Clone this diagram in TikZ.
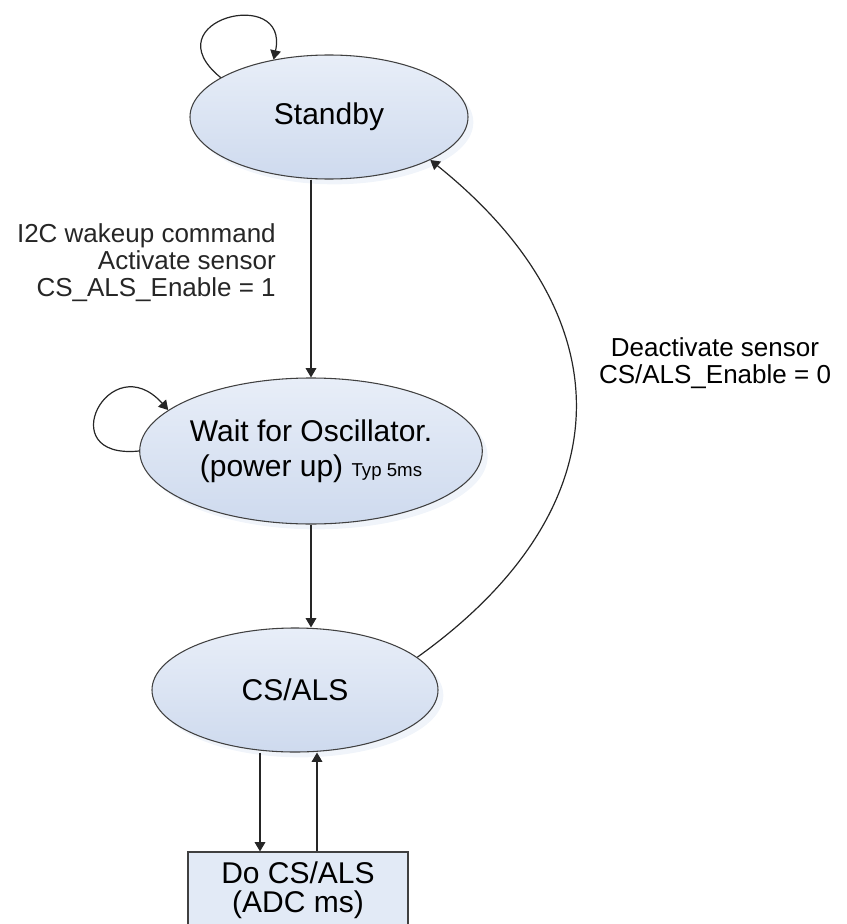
\documentclass[tikz,border=0pt]{standalone}
\usepackage{fontspec}
\setmainfont{Liberation Sans}
\usetikzlibrary{shapes.geometric,arrows.meta,shadows}

\definecolor{statetop}{RGB}{232,238,248}
\definecolor{statebot}{RGB}{206,218,238}
\definecolor{boxfill}{RGB}{226,234,246}

\tikzset{
  >={Triangle[length=7pt,width=8pt]},
  txt/.style={font=\fontsize{19.5}{20.6}\selectfont},
  bigtxt/.style={font=\fontsize{22.5}{21.75}\selectfont},
  state/.style={ellipse, draw=black!75, line width=0.8pt, inner sep=0pt, bigtxt,
    top color=statetop, bottom color=statebot,
    general shadow={fill=statebot!30, shadow xshift=4pt, shadow yshift=-4pt}},
  action/.style={rectangle, draw=black!75, line width=0.8pt, inner sep=0pt, bigtxt,
    fill=boxfill},
  trans/.style={->, line width=0.9pt, black!85},
  lbl/.style={txt, inner sep=0pt}
}

\begin{document}
\begin{tikzpicture}[x=0.75pt, y=-0.75pt]

    \useasboundingbox (0,0) rectangle (846,924);

    % states
    \node[state, minimum width=208.5pt, minimum height=93pt] (standby) at (329,117) {Standby};
    \node[state, minimum width=256.5pt, minimum height=109.5pt, align=center] (wait) at (311,451)
        {Wait for Oscillator.\\[4.5pt](power up) {\fontsize{14}{14}\selectfont Typ 5ms}};
    \node[state, minimum width=214.5pt, minimum height=93pt] (csals) at (295,690) {CS/ALS};
    \node[action, minimum width=165pt, minimum height=57pt, align=center] (do) at (298,890)
        {Do CS/ALS\\(ADC ms)};

    \coordinate (doL) at ([xshift=-28.5pt]do.north);
    \coordinate (doR) at ([xshift=14.25pt]do.north);

    % transitions
    \draw[trans] (standby.south -| wait.north) -- (wait.north)
        node[lbl, pos=0.42, left=26pt, align=right] (wakelbl)
        {I2C wakeup command\\Activate sensor\\CS\_ALS\_Enable = 1};
    \draw[trans] (wait.south) -- (wait.south |- csals.north);
    \draw[trans] (doL |- csals.south) -- (doL);
    \draw[trans] (doR) -- (doR |- csals.south);
    \draw[trans] (csals.15) .. controls (626,508) and (626,317) .. (standby.-23);

    \node[lbl, align=center] (offlbl) at (715,363) {Deactivate sensor\\CS/ALS\_Enable = 0};

    % self loops
    \draw[trans] (standby.160) .. controls (150,20) and (290,-15) .. (standby.134);
    \draw[trans] (wait.west) .. controls (50,460) and (110,345) .. (wait.164);

\end{tikzpicture}
\end{document}
